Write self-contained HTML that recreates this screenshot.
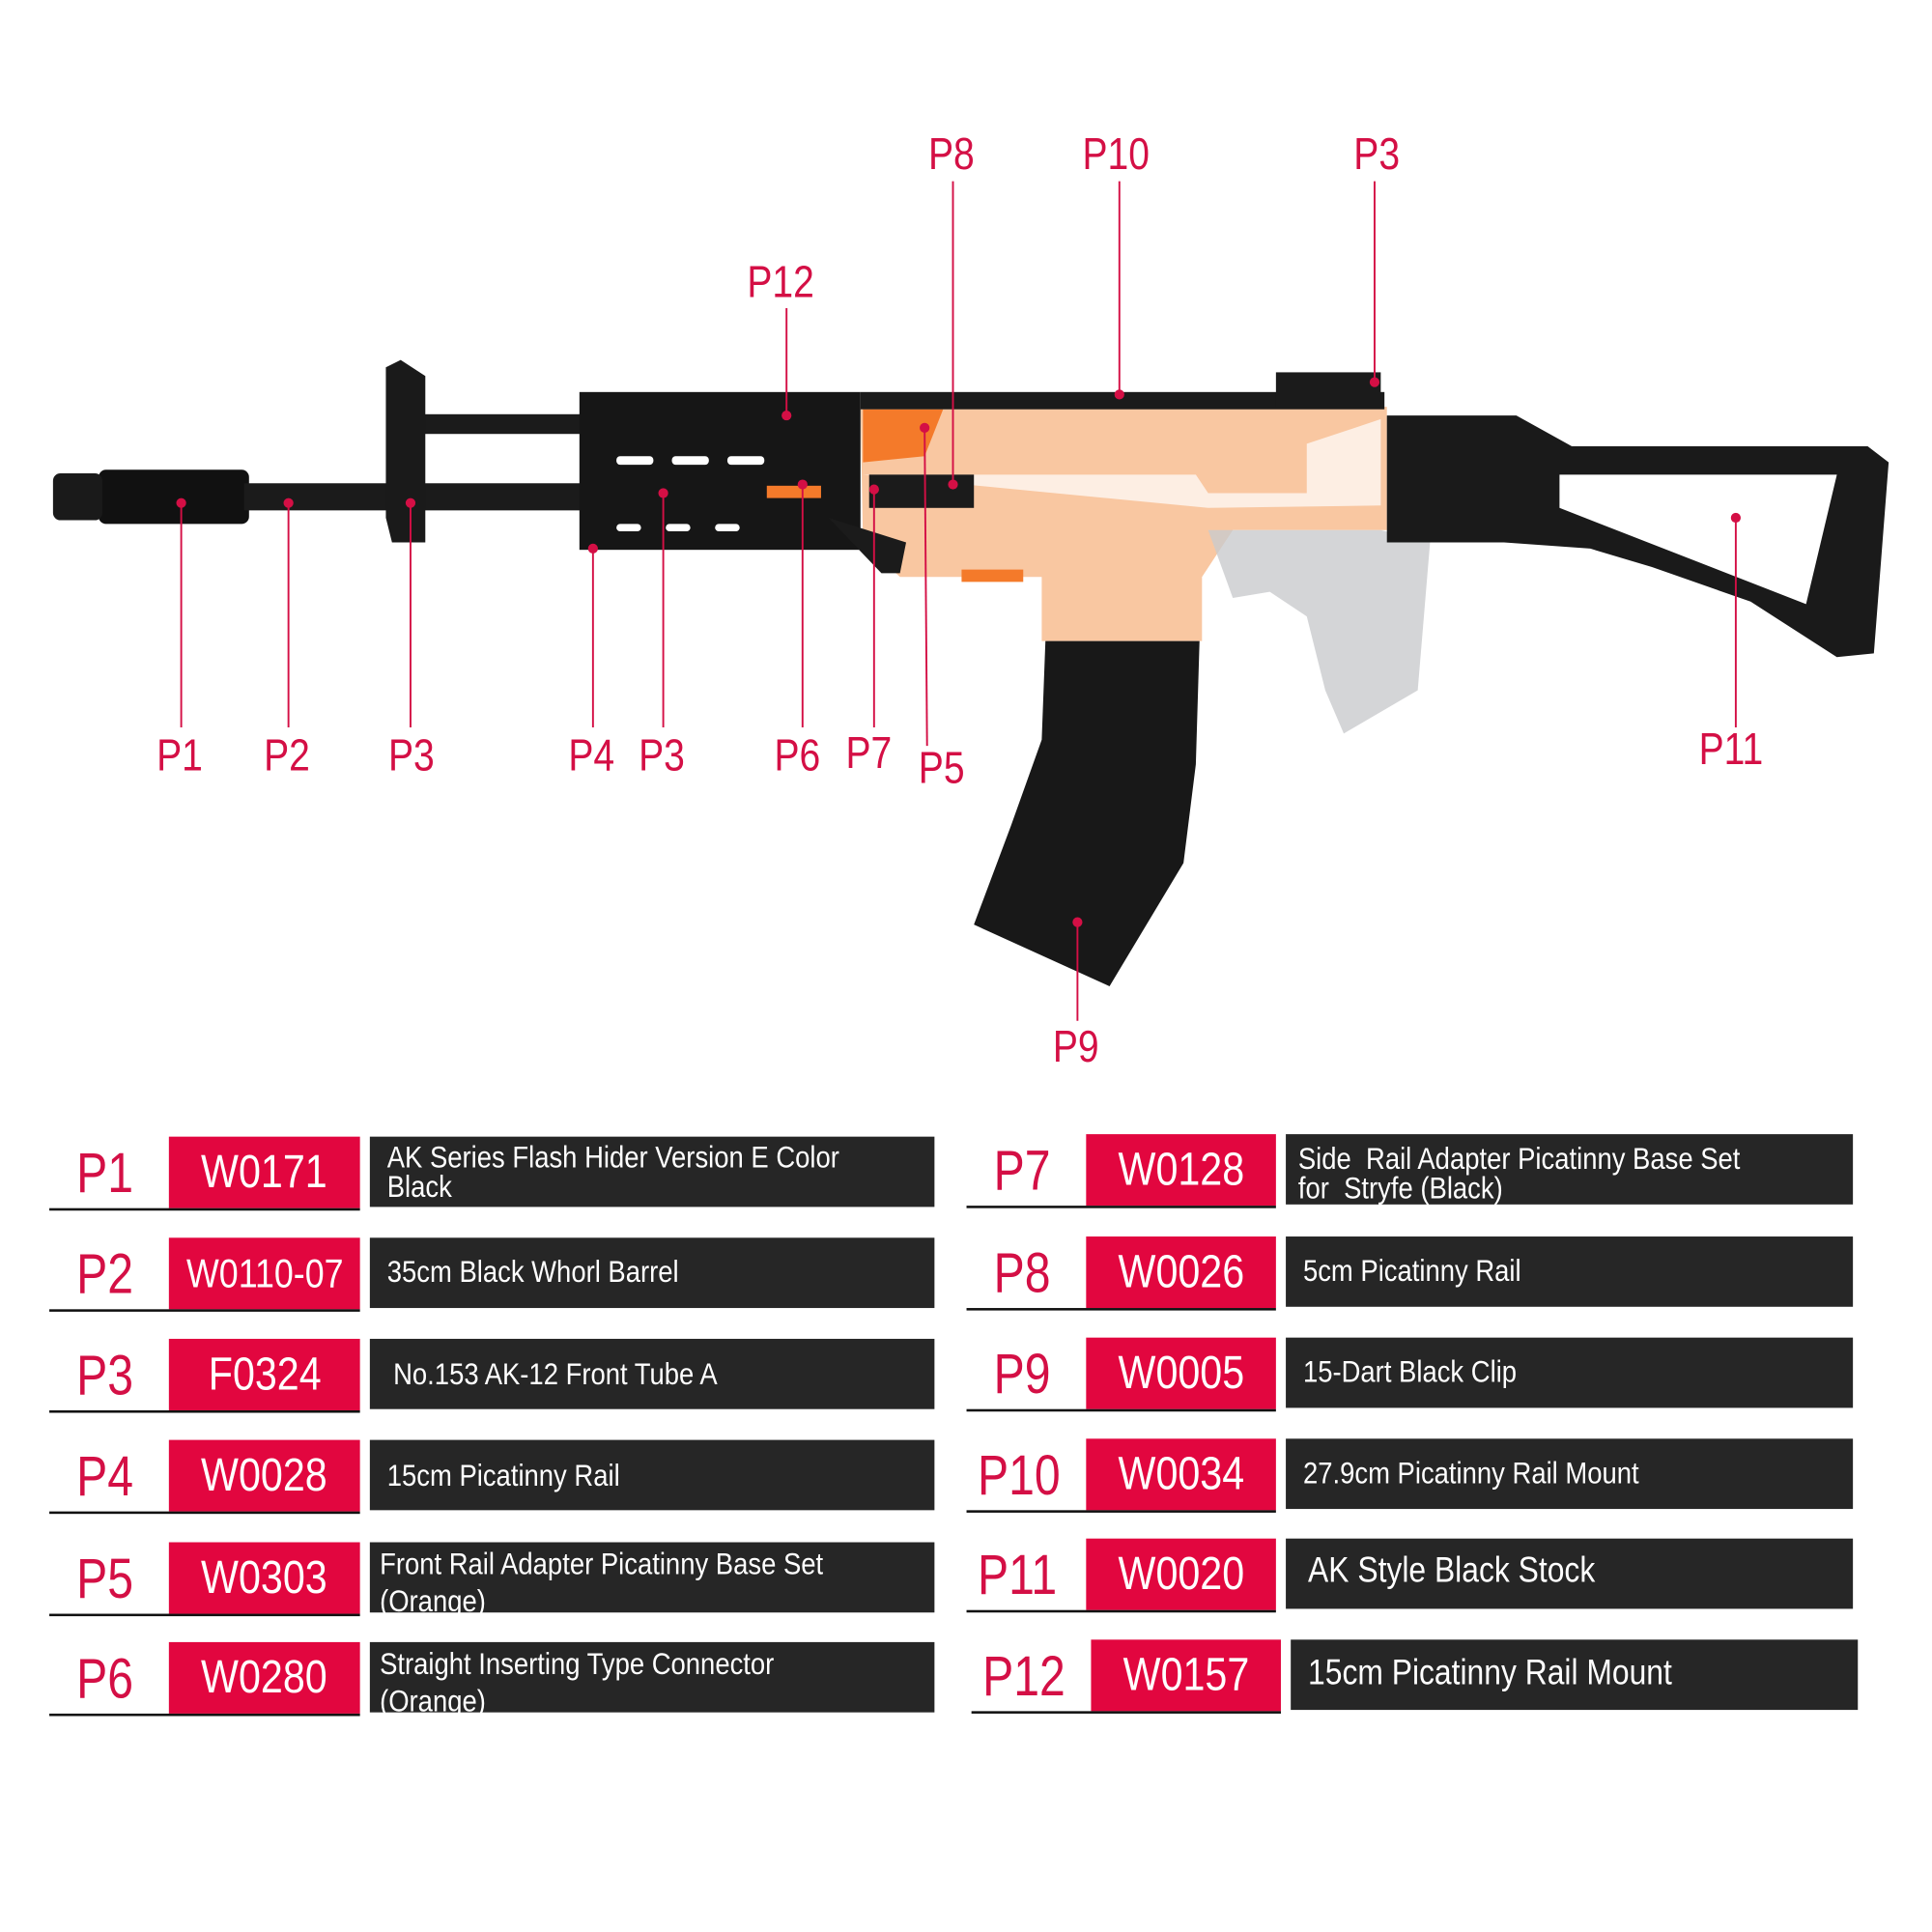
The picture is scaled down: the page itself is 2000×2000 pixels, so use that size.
<!DOCTYPE html>
<html><head><meta charset="utf-8"><style>
html,body{margin:0;padding:0;background:#fff;}
#wrap{width:2000px;height:2000px;overflow:hidden;position:relative;}
#c{position:absolute;left:0;top:0;width:1570px;height:1570px;transform:scale(1.2762);transform-origin:0 0;font-family:"Liberation Sans",sans-serif;}
.lbl{position:absolute;color:#d40f45;font-size:36px;transform:scaleX(0.85);transform-origin:0 0;}
.p{position:absolute;color:#d40f45;font-size:46px;transform:scaleX(0.82);transform-origin:0 0;line-height:1;}
.r{position:absolute;background:#e2063f;color:#fff;font-size:38px;text-align:center;height:58px;line-height:58px;}
.r span{display:inline-block;transform:scaleX(0.85);}
.d{position:absolute;background:#262626;color:#fff;font-size:25px;height:57px;}
.d div{position:absolute;left:14px;transform:scaleX(0.86);transform-origin:0 0;white-space:nowrap;line-height:24px;}
.u{position:absolute;height:2px;background:#111;}
</style></head><body><div id="wrap"><div id="c">
<svg width="1560" height="880" style="position:absolute;left:0;top:0">
<path d="M698 330 L1125 330 L1125 430 L1000 430 L975 468 L975 520 L845 520 L845 468 L730 468 L700 440 Z" fill="#f9c7a1"/>
<path d="M700 385 L970 385 L980 400 L1060 400 L1060 360 L1120 340 L1120 410 L980 412 Z" fill="#fff" opacity="0.7"/>
<path d="M700 332 L765 332 L750 370 L700 375 Z" fill="#f47a2a"/>
<rect x="780" y="462" width="50" height="10" fill="#f47a2a"/>
<path d="M980 430 L1120 430 L1160 440 L1150 560 L1090 595 L1075 560 L1060 500 L1030 480 L1000 485 Z" fill="#c9cacd" opacity="0.8"/>
<rect x="80" y="381" width="122" height="44" rx="6" fill="#111"/>
<rect x="43" y="384" width="40" height="38" rx="6" fill="#1a1a1a"/>
<rect x="198" y="392" width="275" height="22" fill="#1b1b1b"/>
<rect x="340" y="336" width="132" height="16" fill="#1b1b1b"/>
<path d="M313 298 L325 292 L345 305 L345 440 L318 440 L313 420 Z" fill="#1a1a1a"/>
<rect x="470" y="318" width="228" height="128" fill="#161616"/>
<g fill="#fff"><rect x="500" y="370" width="30" height="7" rx="3"/><rect x="545" y="370" width="30" height="7" rx="3"/><rect x="590" y="370" width="30" height="7" rx="3"/><rect x="500" y="425" width="20" height="6" rx="3"/><rect x="540" y="425" width="20" height="6" rx="3"/><rect x="580" y="425" width="20" height="6" rx="3"/></g>
<rect x="622" y="394" width="44" height="10" fill="#f47a2a"/>
<rect x="698" y="318" width="425" height="14" fill="#1b1b1b"/>
<rect x="1035" y="302" width="85" height="28" fill="#1b1b1b"/>
<rect x="705" y="385" width="85" height="27" fill="#1b1b1b"/>
<path d="M672 420 L735 440 L730 465 L715 465 Z" fill="#1b1b1b"/>
<path d="M1125 337 L1230 337 L1275 362 L1515 362 L1532 375 L1520 530 L1490 533 L1420 488 L1340 460 L1290 445 L1220 440 L1125 440 Z" fill="#1a1a1a"/>
<path d="M1265 385 L1490 385 L1465 490 L1265 412 Z" fill="#fff"/>
<path d="M848 520 L973 520 L970 620 L960 700 L900 800 L790 750 L820 670 L845 600 Z" fill="#181818"/>
<g stroke="#d40f45" stroke-width="1.5">
<line x1="147" y1="408" x2="147" y2="590"/><line x1="234" y1="408" x2="234" y2="590"/><line x1="333" y1="408" x2="333" y2="590"/><line x1="481" y1="445" x2="481" y2="590"/><line x1="538" y1="400" x2="538" y2="590"/><line x1="651" y1="393" x2="651" y2="590"/><line x1="709" y1="397" x2="709" y2="590"/><line x1="750" y1="347" x2="752" y2="605"/><line x1="1408" y1="420" x2="1408" y2="590"/><line x1="874" y1="748" x2="874" y2="828"/>
<line x1="773" y1="147" x2="773" y2="393"/><line x1="908" y1="147" x2="908" y2="320"/><line x1="1115" y1="147" x2="1115" y2="310"/><line x1="638" y1="250" x2="638" y2="337"/>
</g>
<g fill="#d40f45"><circle cx="147" cy="408" r="4"/><circle cx="234" cy="408" r="4"/><circle cx="333" cy="408" r="4"/><circle cx="481" cy="445" r="4"/><circle cx="538" cy="400" r="4"/><circle cx="651" cy="393" r="4"/><circle cx="709" cy="397" r="4"/><circle cx="750" cy="347" r="4"/><circle cx="1408" cy="420" r="4"/><circle cx="874" cy="748" r="4"/><circle cx="773" cy="393" r="4"/><circle cx="908" cy="320" r="4"/><circle cx="1115" cy="310" r="4"/><circle cx="638" cy="337" r="4"/></g>
</svg>
<div class="lbl" style="left:753px;top:104px">P8</div>
<div class="lbl" style="left:878px;top:104px">P10</div>
<div class="lbl" style="left:1098px;top:104px">P3</div>
<div class="lbl" style="left:606px;top:208px">P12</div>
<div class="lbl" style="left:127px;top:592px">P1</div>
<div class="lbl" style="left:214px;top:592px">P2</div>
<div class="lbl" style="left:315px;top:592px">P3</div>
<div class="lbl" style="left:461px;top:592px">P4</div>
<div class="lbl" style="left:518px;top:592px">P3</div>
<div class="lbl" style="left:628px;top:592px">P6</div>
<div class="lbl" style="left:686px;top:590px">P7</div>
<div class="lbl" style="left:745px;top:602px">P5</div>
<div class="lbl" style="left:1378px;top:587px">P11</div>
<div class="lbl" style="left:854px;top:828px">P9</div>

<div class="p" style="left:62px;top:928px">P1</div><div class="r" style="left:137px;top:922px;width:155px"><span>W0171</span></div><div class="d" style="left:300px;top:922px;width:458px"><div style="top:5px">AK Series Flash Hider Version E Color<br>Black</div></div><div class="u" style="left:40px;top:980px;width:252px"></div>
<div class="p" style="left:62px;top:1010px">P2</div><div class="r" style="left:137px;top:1004px;width:155px;font-size:33px"><span>W0110-07</span></div><div class="d" style="left:300px;top:1004px;width:458px"><div style="top:16px">35cm Black Whorl Barrel</div></div><div class="u" style="left:40px;top:1062px;width:252px"></div>
<div class="p" style="left:62px;top:1092px">P3</div><div class="r" style="left:137px;top:1086px;width:155px"><span>F0324</span></div><div class="d" style="left:300px;top:1086px;width:458px"><div style="top:17px;left:19px">No.153 AK-12 Front Tube A</div></div><div class="u" style="left:40px;top:1144px;width:252px"></div>
<div class="p" style="left:62px;top:1174px">P4</div><div class="r" style="left:137px;top:1168px;width:155px"><span>W0028</span></div><div class="d" style="left:300px;top:1168px;width:458px"><div style="top:17px">15cm Picatinny Rail</div></div><div class="u" style="left:40px;top:1226px;width:252px"></div>
<div class="p" style="left:62px;top:1257px">P5</div><div class="r" style="left:137px;top:1251px;width:155px"><span>W0303</span></div><div class="d" style="left:300px;top:1251px;width:458px"><div style="top:3px;left:8px;line-height:30px">Front Rail Adapter Picatinny Base Set<br>(Orange)</div></div><div class="u" style="left:40px;top:1309px;width:252px"></div>
<div class="p" style="left:62px;top:1338px">P6</div><div class="r" style="left:137px;top:1332px;width:155px"><span>W0280</span></div><div class="d" style="left:300px;top:1332px;width:458px"><div style="top:3px;left:8px;line-height:30px">Straight Inserting Type Connector<br>(Orange)</div></div><div class="u" style="left:40px;top:1390px;width:252px"></div>

<div class="p" style="left:806px;top:926px">P7</div><div class="r" style="left:881px;top:920px;width:154px"><span>W0128</span></div><div class="d" style="left:1043px;top:920px;width:460px"><div style="top:8px;left:10px">Side&nbsp; Rail Adapter Picatinny Base Set<br>for&nbsp; Stryfe (Black)</div></div><div class="u" style="left:784px;top:978px;width:251px"></div>
<div class="p" style="left:806px;top:1009px">P8</div><div class="r" style="left:881px;top:1003px;width:154px"><span>W0026</span></div><div class="d" style="left:1043px;top:1003px;width:460px"><div style="top:16px">5cm Picatinny Rail</div></div><div class="u" style="left:784px;top:1061px;width:251px"></div>
<div class="p" style="left:806px;top:1091px">P9</div><div class="r" style="left:881px;top:1085px;width:154px"><span>W0005</span></div><div class="d" style="left:1043px;top:1085px;width:460px"><div style="top:16px">15-Dart Black Clip</div></div><div class="u" style="left:784px;top:1143px;width:251px"></div>
<div class="p" style="left:793px;top:1173px">P10</div><div class="r" style="left:881px;top:1167px;width:154px"><span>W0034</span></div><div class="d" style="left:1043px;top:1167px;width:460px"><div style="top:16px">27.9cm Picatinny Rail Mount</div></div><div class="u" style="left:784px;top:1225px;width:251px"></div>
<div class="p" style="left:793px;top:1254px">P11</div><div class="r" style="left:881px;top:1248px;width:154px"><span>W0020</span></div><div class="d" style="left:1043px;top:1248px;width:460px;font-size:29px"><div style="top:14px;left:18px">AK Style Black Stock</div></div><div class="u" style="left:784px;top:1306px;width:251px"></div>
<div class="p" style="left:797px;top:1336px">P12</div><div class="r" style="left:885px;top:1330px;width:154px"><span>W0157</span></div><div class="d" style="left:1047px;top:1330px;width:460px;font-size:29px"><div style="top:15px">15cm Picatinny Rail Mount</div></div><div class="u" style="left:788px;top:1388px;width:251px"></div>
</div></div></body></html>
